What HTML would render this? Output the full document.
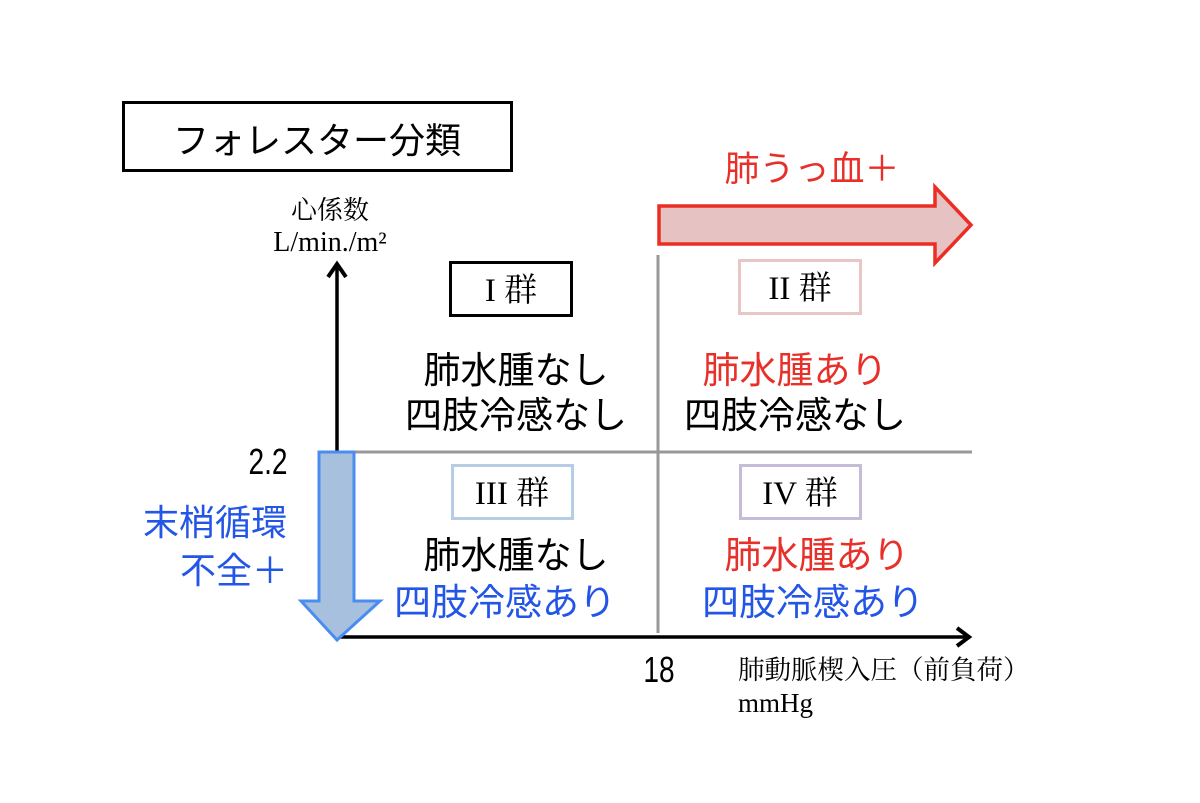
<!DOCTYPE html>
<html><head><meta charset="utf-8"><style>
html,body{margin:0;padding:0;background:#fff;}
svg{display:block;}
.s{font-family:"Liberation Sans","Noto Sans CJK JP",sans-serif;}
.r{font-family:"Liberation Serif","Noto Serif CJK SC",serif;}
</style></head><body>
<svg width="1200" height="803" viewBox="0 0 1200 803" xmlns="http://www.w3.org/2000/svg">
<rect x="0" y="0" width="1200" height="803" fill="#fff"/>
<rect x="123.5" y="102.5" width="388" height="68" fill="none" stroke="#000" stroke-width="3"/>
<text class="s" x="317" y="153" font-size="36" text-anchor="middle">フォレスター分類</text>
<text class="r" x="330" y="219" font-size="26" text-anchor="middle">心係数</text>
<text class="r" x="330" y="251" font-size="28" text-anchor="middle">L/min./m²</text>
<!-- grid -->
<line x1="345" y1="452" x2="972" y2="452" stroke="#999" stroke-width="3"/>
<line x1="658" y1="255" x2="658" y2="633" stroke="#999" stroke-width="3"/>
<!-- y axis -->
<line x1="337" y1="265" x2="337" y2="640" stroke="#000" stroke-width="3.5"/>
<polyline points="328,277 337,264 346,277" fill="none" stroke="#000" stroke-width="4"/>
<!-- x axis -->
<line x1="337" y1="637" x2="968" y2="637" stroke="#000" stroke-width="3.5"/>
<polyline points="957,628 969,637 957,646" fill="none" stroke="#000" stroke-width="4"/>
<!-- red arrow -->
<polygon points="659,206 935,206 935,187 971,225 935,263 935,244 659,244" fill="#e6c2c2" stroke="#ec2d24" stroke-width="3.5" stroke-linejoin="miter"/>
<text class="s" x="812" y="181" font-size="35" fill="#e8302a" text-anchor="middle">肺うっ血＋</text>
<!-- blue arrow -->
<polygon points="319,452 354,452 354,601 380,601 337,640 301,601 319,601" fill="#a7c0de" stroke="#4a8cf0" stroke-width="3"/>
<text class="s" x="268" y="474" font-size="36" text-anchor="middle" transform="translate(268 0) scale(0.78 1) translate(-268 0)">2.2</text>
<text class="s" x="215" y="535" font-size="36" fill="#2356e6" text-anchor="middle">末梢循環</text>
<text class="s" x="234" y="583" font-size="36" fill="#2356e6" text-anchor="middle">不全＋</text>
<!-- boxes -->
<rect x="450.5" y="262.5" width="121" height="53" fill="none" stroke="#000" stroke-width="3"/>
<text class="r" x="511" y="301" font-size="33" text-anchor="middle">I 群</text>
<rect x="739.5" y="260.5" width="121" height="53" fill="none" stroke="#e8c6c6" stroke-width="3"/>
<text class="r" x="800" y="299" font-size="33" text-anchor="middle">II 群</text>
<rect x="452.5" y="465.5" width="120" height="53" fill="none" stroke="#b6cde6" stroke-width="3"/>
<text class="r" x="512" y="504" font-size="33" text-anchor="middle">III 群</text>
<rect x="740.5" y="465.5" width="120" height="53" fill="none" stroke="#c6bcd8" stroke-width="3"/>
<text class="r" x="800" y="504" font-size="33" text-anchor="middle">IV 群</text>
<!-- quadrant text -->
<text class="s" x="516" y="383" font-size="37" text-anchor="middle">肺水腫なし</text>
<text class="s" x="516" y="428" font-size="37" text-anchor="middle">四肢冷感なし</text>
<text class="s" x="795" y="383" font-size="37" fill="#e8302a" text-anchor="middle">肺水腫あり</text>
<text class="s" x="795" y="428" font-size="37" text-anchor="middle">四肢冷感なし</text>
<text class="s" x="516" y="568" font-size="37" text-anchor="middle">肺水腫なし</text>
<text class="s" x="505" y="615" font-size="37" fill="#2356e6" text-anchor="middle">四肢冷感あり</text>
<text class="s" x="817" y="568" font-size="37" fill="#e8302a" text-anchor="middle">肺水腫あり</text>
<text class="s" x="813" y="615" font-size="37" fill="#2356e6" text-anchor="middle">四肢冷感あり</text>
<!-- x labels -->
<text class="s" x="659" y="682" font-size="36" text-anchor="middle" transform="translate(659 0) scale(0.78 1) translate(-659 0)">18</text>
<text class="r" x="738" y="679" font-size="26.5">肺動脈楔入圧（前負荷）</text>
<text class="r" x="738" y="712" font-size="27">mmHg</text>
</svg>
</body></html>
